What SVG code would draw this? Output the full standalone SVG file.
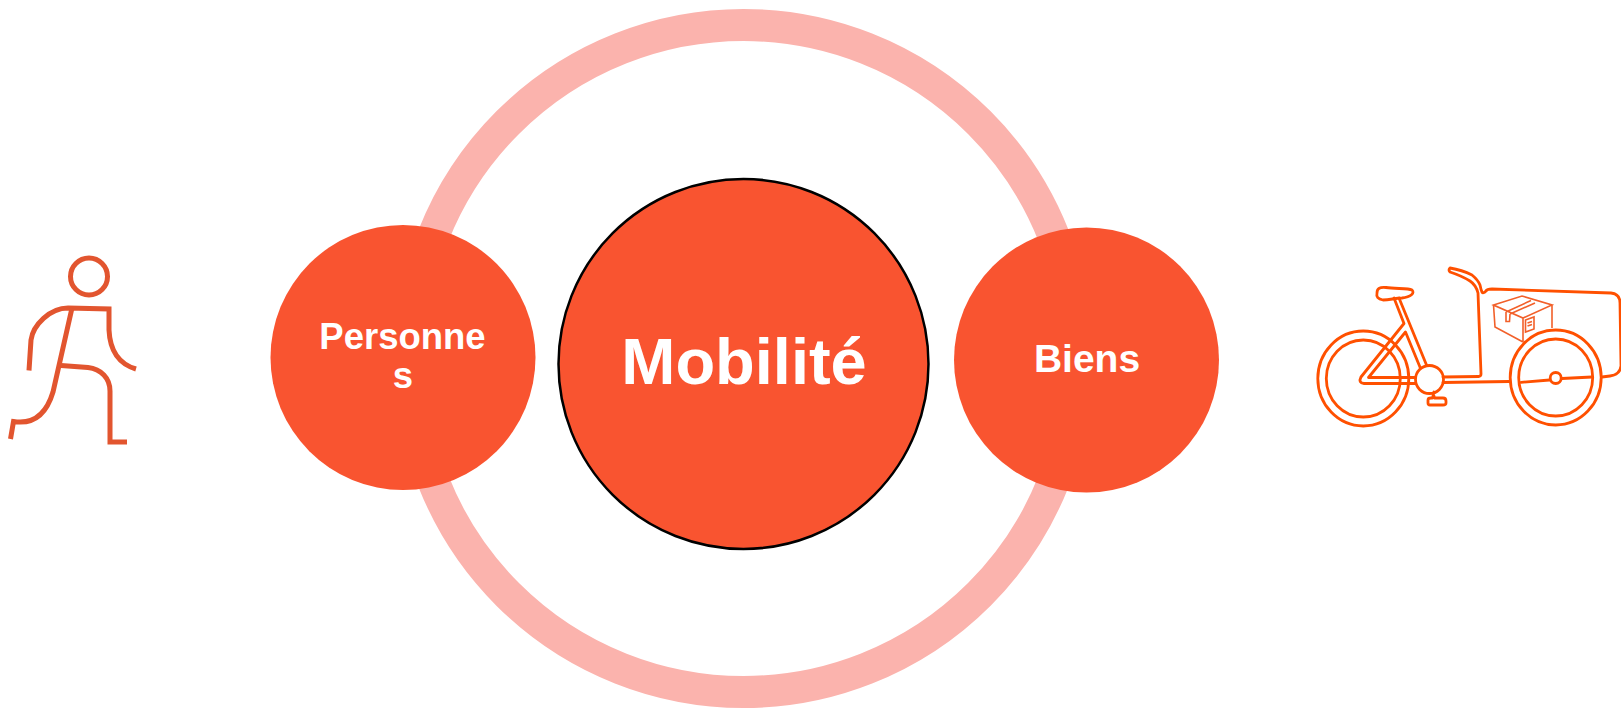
<svg xmlns="http://www.w3.org/2000/svg" width="1621" height="708" viewBox="0 0 1621 708">
<style>
.c{fill:#f95430}
.t{font-family:"Liberation Sans",Arial,sans-serif;font-weight:bold;fill:#fff;text-anchor:middle}
.p{fill:none;stroke:#e2552f;stroke-width:5}
.b{fill:none;stroke:#ff5000;stroke-width:2.800;stroke-linejoin:round;stroke-linecap:round}
.w{fill:#fff;stroke:#ff5000;stroke-width:2.800}
.x{fill:none;stroke:#f2602a;stroke-width:1.600}
</style>
<rect width="1621" height="708" fill="#fff"/>
<g id="connectors">
<circle cx="743.500" cy="358.500" r="333.500" fill="none" stroke="#fbb3ad" stroke-width="32"/>
</g>
<g id="node-personnes">
<circle class="c" cx="403" cy="357.500" r="132.500"/>
<text class="t" font-size="36.500"><tspan x="402.500" y="349">Personne</tspan><tspan x="403" y="388">s</tspan></text>
</g>
<g id="node-mobilite">
<circle class="c" cx="743.500" cy="364" r="185" stroke="#000" stroke-width="2.500"/>
<text class="t" font-size="65" x="744" y="383.500">Mobilité</text>
</g>
<g id="node-biens">
<circle class="c" cx="1086.500" cy="360" r="132.500"/>
<text class="t" font-size="39" x="1087" y="372">Biens</text>
</g>
<g id="person">
<circle class="p" cx="89" cy="276.500" r="18.500"/>
<path class="p" d="M29 370.500L31 340C33 325 50 308 68 308L109 309V330C110 352 119 364 136 369"/>
<path class="p" d="M72 308L53 392C47 412 35 425 13.500 421.500L10.500 439"/>
<path class="p" d="M61 365.500L88 367.500C101 369 110 378 110 391V442H127"/>
</g>
<g id="bike">
<ellipse class="b" cx="1363.300" cy="378.500" rx="45.500" ry="47.500"/>
<ellipse class="b" cx="1363.300" cy="378.500" rx="37" ry="38.500"/>
<ellipse class="b" cx="1555.700" cy="377.500" rx="45.500" ry="47.500"/>
<ellipse class="b" cx="1555.700" cy="377.500" rx="37" ry="38.500"/>
<path class="b" d="M1394 298L1404 323.500L1361 377Q1358 383 1364 383.500H1416M1368.500 377.500H1417M1368.500 377.500L1405.500 332L1422 372M1399 298L1426.500 365"/>
<path class="b" d="M1377 293C1377 288 1380 287 1386 287.500C1395 289 1408 288 1412 290C1415 293 1411 297 1402 298C1395 298 1390 300 1383 300C1378 299 1376 297 1377 293Z"/>
<circle class="w" cx="1429.500" cy="379.500" r="14"/>
<path class="b" d="M1433 393L1434.500 398H1443Q1446 398 1446 401V403Q1446 405 1443 405H1430Q1428 405 1428 403V400Q1428 398 1431 398H1432.500L1434 392"/>
<path class="b" d="M1443 377L1479 376.500Q1481 376 1481 374L1478 293Q1476 285 1470 281Q1462 276 1450 272Q1448 270 1450 268Q1462 270 1472 275Q1478 280 1480 285Q1481 290 1482 292Q1483 294 1486 291Q1487 289 1492 289L1611 293Q1620 294 1620 303L1621 366Q1620 375 1610 376L1602 377"/>
<path class="b" d="M1443 382.500L1509 381.500"/>
<path class="b" d="M1521 382.300L1549.500 380M1562 378.500L1592 377"/>
<circle class="b" cx="1555.700" cy="378" r="5.500"/>
<g id="box">
<path class="x" d="M1493.500 305L1522 296L1552 305L1523 318ZM1493.500 305L1495 327L1523 342M1523 318V342M1552 305L1552 328M1506 312L1531 300.500M1510 314L1535 303M1506 312V321.500H1509.500L1510 314"/>
<path class="x" d="M1525.500 320L1534 317V329L1525.500 332ZM1527.500 323L1532 321.500M1527.500 326L1532 324.500"/>
</g>
</g>
</svg>
